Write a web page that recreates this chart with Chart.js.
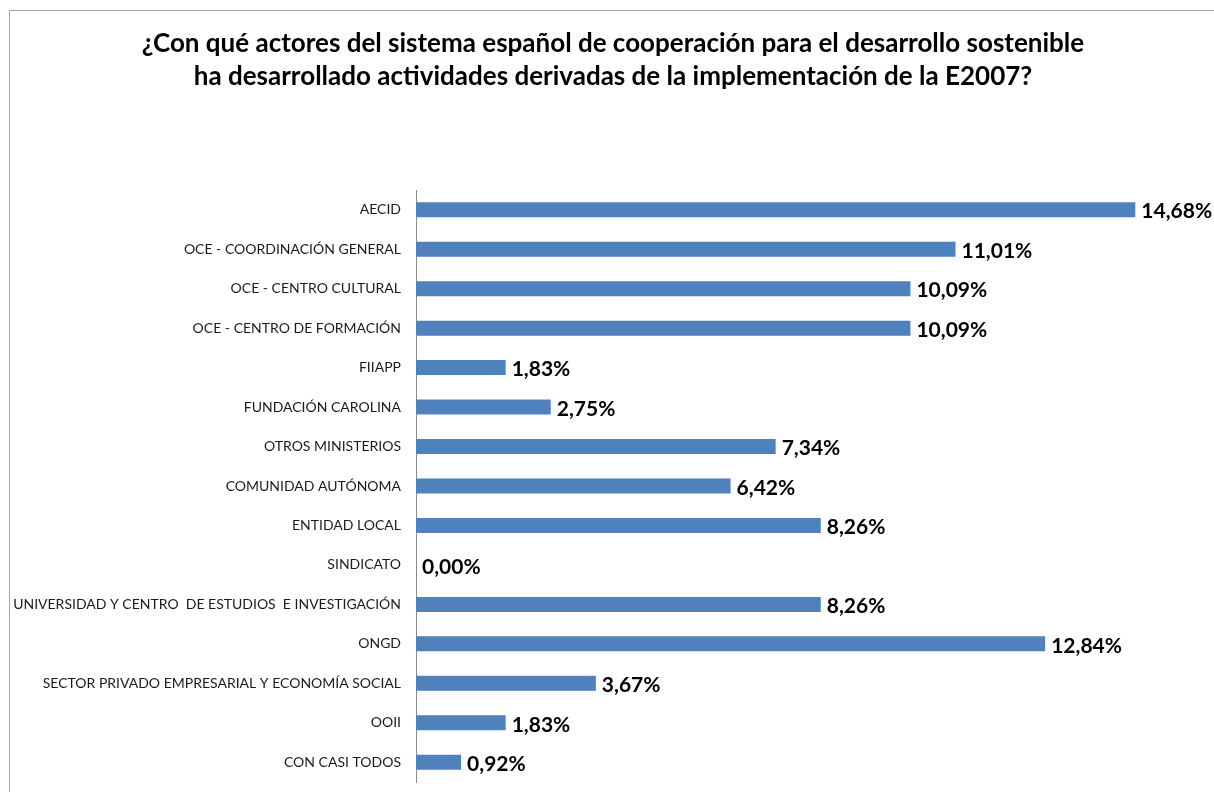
<!DOCTYPE html>
<html>
<head>
<meta charset="utf-8">
<script src="https://cdn.jsdelivr.net/npm/chart.js@4.4.1/dist/chart.umd.min.js"></script>
<style>
  html, body { margin: 0; padding: 0; background: #fff; }
  #wrap { position: relative; width: 1214px; height: 792px; overflow: hidden; }
  #frame { position: absolute; left: 9px; top: 10px; width: 1300px; height: 900px; border: 1px solid #a6a6a6; box-sizing: border-box; }
  canvas { position: absolute; left: 0; top: 0; }
</style>
</head>
<body>
<div id="wrap">
  <div id="frame"></div>
  <canvas id="c" width="1214" height="792"></canvas>
</div>
<script>
const titleLines = [
  "¿Con qué actores del sistema español de cooperación para el desarrollo sostenible",
  "ha desarrollado actividades derivadas de la implementación de la E2007?"
];
const categories = [
  "AECID",
  "OCE - COORDINACIÓN GENERAL",
  "OCE - CENTRO CULTURAL",
  "OCE - CENTRO DE FORMACIÓN",
  "FIIAPP",
  "FUNDACIÓN CAROLINA",
  "OTROS MINISTERIOS",
  "COMUNIDAD AUTÓNOMA",
  "ENTIDAD LOCAL",
  "SINDICATO",
  "UNIVERSIDAD Y CENTRO  DE ESTUDIOS  E INVESTIGACIÓN",
  "ONGD",
  "SECTOR PRIVADO EMPRESARIAL Y ECONOMÍA SOCIAL",
  "OOII",
  "CON CASI TODOS"
];
const values = [14.68, 11.01, 10.09, 10.09, 1.83, 2.75, 7.34, 6.42, 8.26, 0.00, 8.26, 12.84, 3.67, 1.83, 0.92];

const valueLabels = {
  id: 'valueLabels',
  afterDatasetsDraw(chart) {
    const ctx = chart.ctx;
    const meta = chart.getDatasetMeta(0);
    ctx.save();
    ctx.font = 'bold 21px Lato';
    ctx.fillStyle = '#000';
    ctx.textAlign = 'left';
    ctx.textBaseline = 'middle';
    meta.data.forEach((bar, i) => {
      const txt = values[i].toFixed(2).replace('.', ',') + '%';
      ctx.fillText(txt, bar.x + 6, bar.y + 2);
    });
    ctx.restore();
  }
};

const chartTitle = {
  id: 'chartTitle',
  afterDraw(chart) {
    const ctx = chart.ctx;
    ctx.save();
    ctx.font = 'bold 26px Lato';
    ctx.fillStyle = '#000';
    ctx.textAlign = 'center';
    ctx.textBaseline = 'middle';
    ctx.fillText(titleLines[0], 613, 44);
    ctx.fillText(titleLines[1], 613, 77);
    ctx.restore();
  }
};

new Chart(document.getElementById('c'), {
  type: 'bar',
  data: {
    labels: categories,
    datasets: [{
      data: values,
      backgroundColor: '#4F81BD',
      borderWidth: 0,
      barPercentage: 0.76,
      categoryPercentage: 0.5
    }]
  },
  options: {
    indexAxis: 'y',
    responsive: false,
    animation: false,
    devicePixelRatio: 1,
    layout: { padding: { top: 190, right: 63, bottom: 10, left: 0 } },
    plugins: {
      legend: { display: false },
      tooltip: { enabled: false },
      title: { display: false }
    },
    scales: {
      x: {
        display: false,
        min: 0,
        max: 15
      },
      y: {
        afterFit(scale) { scale.width = 416; scale.paddingBottom = 0; scale.paddingTop = 0; },
        grid: { display: false, drawTicks: false },
        border: { display: true, color: '#8c8c8c', width: 1 },
        ticks: {
          color: '#1a1a1a',
          padding: 15,
          font: { family: 'Lato', size: 14 }
        }
      }
    }
  },
  plugins: [valueLabels, chartTitle]
});
</script>
</body>
</html>
